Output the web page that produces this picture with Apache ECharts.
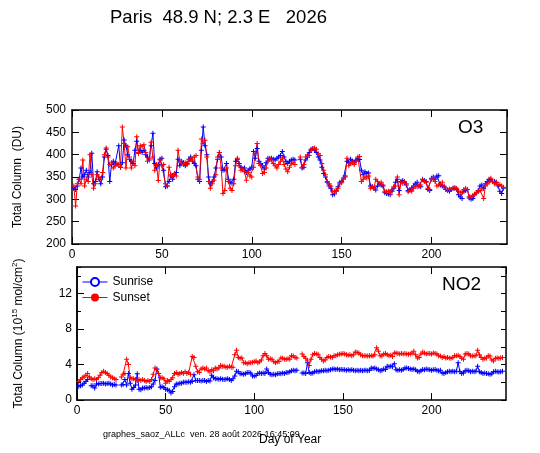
<!DOCTYPE html>
<html><head><meta charset="utf-8">
<script src="https://cdn.jsdelivr.net/npm/echarts/dist/echarts.min.js"></script>
<style>html,body{margin:0;padding:0;background:#fff}#c{width:540px;height:453px}</style>
</head><body><div id="c"></div>
<script>
// ---- data (day of year starts at firstDay, one value per day, null = no measurement) ----
const firstDay = 1;
const o3Sunrise = [
325,322,330,345,370,350,355,365,350,360,
403,335,340,362,345,335,350,395,412,398,
340,378,385,380,378,420,372,382,433,420,
400,390,385,380,410,430,403,410,405,410,
400,395,388,420,448,380,370,378,390,392,
365,328,330,340,352,345,355,360,390,375,
385,382,375,380,390,395,385,380,375,345,
340,410,462,420,400,350,335,340,350,370,
390,405,395,365,366,380,345,338,336,345,
385,390,380,372,368,370,360,365,368,372,
407,392,414,385,380,375,368,382,392,390,
392,390,388,392,395,398,407,395,385,380,
385,388,390,388,null,null,390,370,372,388,
395,405,412,414,410,405,395,388,372,358,
350,338,330,325,310,312,318,328,338,340,
348,352,385,382,390,385,382,388,392,389,
365,355,362,358,359,330,328,325,321,330,
335,332,330,315,313,312,310,318,325,338,
345,320,340,342,338,332,320,322,325,330,
335,338,330,328,345,342,340,322,320,347,
350,345,352,353,332,330,328,322,320,318,
322,325,325,322,310,305,302,318,320,322,
303,300,302,310,315,320,330,332,325,335,
340,345,344,340,340,338,330,318,313,325];
const o3Sunset = [
330,285,335,345,335,388,330,345,340,400,
355,325,335,355,350,345,360,400,415,395,
378,382,370,375,380,378,372,462,425,370,
418,395,370,385,375,440,405,420,418,422,
405,385,392,428,395,365,378,342,388,375,
378,335,330,372,355,352,358,352,410,385,
380,378,382,378,385,390,388,395,398,350,
345,435,425,432,395,340,325,335,343,355,
395,405,370,313,320,370,340,325,320,335,
375,392,375,365,368,362,343,360,352,350,
372,403,425,380,375,358,360,370,385,392,
388,380,375,370,378,385,392,378,368,362,
372,380,382,378,null,null,395,372,378,395,
400,398,410,413,415,412,402,398,380,365,
355,340,335,330,317,318,320,325,335,337,
345,350,392,375,380,382,378,385,395,396,
340,345,350,348,352,325,328,325,345,340,
335,338,332,318,317,318,315,322,328,330,
350,310,338,336,340,335,317,320,318,325,
330,328,330,332,344,340,338,325,322,345,
348,340,330,332,335,338,330,322,322,323,
322,325,326,325,318,315,315,322,325,322,
306,305,308,312,315,318,320,323,302,330,
335,338,347,340,335,338,332,333,330,327];
const no2Sunrise = [
1.55,1.6,1.7,1.9,2.1,2.3,null,1.6,1.6,1.35,
1.8,1.8,1.85,1.85,1.9,1.8,1.85,1.9,1.8,1.7,
1.75,1.7,null,null,1.7,1.75,2.3,1.7,3.0,1.9,
1.2,1.4,1.7,2.95,1.2,1.15,1.35,1.35,1.4,1.35,
1.4,1.5,1.8,2.2,3.5,3.0,1.45,1.5,1.4,1.2,
1.15,1.1,0.8,0.95,1.5,1.8,1.8,1.9,1.9,2.0,
2.0,2.0,2.05,2.0,2.1,2.85,2.2,2.2,2.2,2.15,
2.2,2.2,2.1,2.2,2.15,2.8,2.5,2.4,2.4,2.35,
2.4,2.35,2.3,2.35,2.4,2.3,2.2,2.4,2.7,3.25,
3.2,2.95,2.95,2.9,2.95,3.1,3.1,3.05,2.7,2.7,
2.75,3.0,3.05,3.0,3.05,3.0,3.5,3.1,2.9,2.85,
2.9,2.85,2.95,3.0,2.95,3.05,3.0,3.1,3.1,3.2,
3.3,3.35,3.3,3.35,null,null,3.05,3.05,3.0,4.2,
3.1,3.0,3.05,3.2,3.25,3.2,3.25,3.3,3.3,3.35,
3.3,3.35,3.4,3.5,3.5,3.45,3.5,3.4,3.45,3.4,
3.4,3.35,3.4,3.35,3.4,3.35,3.3,3.35,3.3,3.35,
3.3,3.35,3.35,3.3,3.35,3.6,3.55,3.6,3.5,3.4,
3.3,3.35,3.5,3.45,3.8,3.75,3.8,3.75,4.1,3.4,
3.35,3.4,3.35,3.45,3.6,3.6,3.55,3.5,3.45,3.5,
3.4,3.25,3.2,3.3,3.45,3.4,3.5,3.45,3.4,3.35,
3.4,3.45,3.35,3.3,3.35,3.05,3.0,3.1,3.2,3.25,
3.2,3.25,3.2,3.25,4.2,3.2,3.0,3.05,3.3,3.35,
3.3,3.2,3.25,3.2,3.25,3.8,3.2,3.1,3.0,3.05,
3.0,2.95,2.9,2.95,3.2,3.25,3.2,3.15,3.2,3.25];
const no2Sunset = [
2.1,2.3,2.5,2.6,2.8,3.0,2.6,2.4,2.3,2.4,
2.3,2.5,2.8,3.1,3.25,3.1,3.0,2.8,2.6,2.5,
2.4,2.3,null,null,2.6,2.9,3.0,4.6,4.0,2.5,
2.4,2.4,2.3,2.2,2.3,2.2,2.3,2.2,2.1,2.2,
2.1,2.3,2.9,3.6,3.4,3.0,2.5,2.5,2.4,1.9,
2.2,2.1,2.3,2.5,3.0,3.1,2.9,3.0,3.1,3.0,
3.2,3.0,3.1,2.9,4.9,4.8,3.8,3.2,3.1,3.5,
3.6,3.5,3.6,3.3,3.2,3.4,3.3,3.6,3.5,3.6,
3.9,3.8,3.8,3.7,3.7,3.8,3.7,3.7,5.1,5.6,
4.8,4.7,4.75,4.2,4.2,4.1,4.2,4.2,4.25,4.3,
4.4,4.2,4.3,4.5,5.0,5.25,5.0,4.6,4.65,4.6,
4.3,4.2,4.3,4.35,4.75,4.7,4.6,4.6,4.65,4.6,
5.0,4.95,4.8,4.75,null,null,5.2,4.9,4.7,4.4,
3.9,4.6,5.1,5.25,5.2,5.15,4.8,4.6,4.4,4.5,
4.8,4.9,4.85,4.8,5.0,5.0,5.1,5.15,5.2,5.25,
5.2,5.1,5.05,5.1,5.0,5.1,5.4,5.35,5.3,5.1,
5.0,5.0,5.0,4.95,5.0,5.0,4.95,5.1,5.9,5.5,
5.0,4.95,5.2,5.25,5.1,5.0,5.05,4.9,5.3,5.3,
5.25,5.2,5.25,5.2,5.25,5.2,5.15,5.2,5.3,5.5,
5.1,4.75,4.8,5.2,5.4,5.3,5.2,5.25,5.25,5.2,
5.3,5.25,5.2,5.0,4.95,4.8,4.9,4.75,4.8,4.75,
4.7,4.8,5.0,5.0,5.05,4.9,4.7,4.6,5.2,5.25,
5.2,5.0,4.95,5.0,5.0,5.6,5.1,4.8,4.6,4.7,
4.75,5.0,4.95,4.5,4.4,4.7,4.75,4.7,4.75,4.8];
const legendNames = ['Sunrise', 'Sunset'];
const dayAxis = {min: 0, max: 242, interval: 50};
const o3Axis = {min: 200, max: 500, interval: 50};
const no2Axis = {min: 0, max: 15, interval: 4, minor: 2};
const titleText = 'Paris  48.9 N; 2.3 E   2026';
const footerText = 'graphes_saoz_ALLc  ven. 28 août 2026 16:45:09';

// ---- chart ----
const blue = '#0000ff', red = '#ff0000', black = '#000';
const font = '"Liberation Sans", Arial, Helvetica, sans-serif';
const plus = 'path://M-0.2,-1H0.2V-0.2H1V0.2H0.2V1H-0.2V0.2H-1V-0.2H-0.2Z';
const pts = arr => arr.map((v, i) => [firstDay + i, v]);
const axLine = {show: true, onZero: false, lineStyle: {color: black, width: 1.5}};
const lbl = (show, margin, showMax) => ({show, color: black, fontSize: 12, fontFamily: font, margin, showMaxLabel: !!showMax, showMinLabel: true});

function xAx(grid, pos, labels) {
  return {type: 'value', gridIndex: grid, position: pos, min: dayAxis.min, max: dayAxis.max, interval: dayAxis.interval,
    axisLine: axLine, axisTick: {show: true, inside: true, length: 7, lineStyle: {color: black, width: 1}},
    axisLabel: lbl(labels, 5, false), splitLine: {show: false}};
}
function yAx(grid, pos, cfg, interval, labels, tickLen, margin, showMax) {
  return {type: 'value', gridIndex: grid, position: pos, min: cfg.min, max: cfg.max, interval,
    axisLine: axLine, axisTick: {show: true, inside: true, length: tickLen, lineStyle: {color: black, width: 1}},
    axisLabel: lbl(labels, margin, showMax), splitLine: {show: false}};
}
function line(name, xi, yi, data, color) {
  return {type: 'line', name, xAxisIndex: xi, yAxisIndex: yi, data, symbol: plus, symbolSize: 5,
    lineStyle: {color, width: 1}, itemStyle: {color}, connectNulls: false, silent: true};
}

const y0 = yAx(0, 'left', o3Axis, o3Axis.interval, true, 7, 6, true);
Object.assign(y0, {name: 'Total Column  (DU)', nameLocation: 'middle', nameGap: 48, nameRotate: 90,
  nameTextStyle: {fontSize: 12, color: black, fontFamily: font}});
const y2 = yAx(1, 'left', no2Axis, no2Axis.interval, true, 7, 5, false);
Object.assign(y2, {name: '{a|Total Column (10}{s|15}{a| mol/cm}{s|2}{a|)}', nameLocation: 'middle', nameGap: 52, nameRotate: 90,
  nameTextStyle: {fontSize: 12, color: black, fontFamily: font, rich: {
    a: {fontSize: 12, fontFamily: font, color: black, lineHeight: 14, verticalAlign: 'bottom', padding: [5, 0, 0, 0]},
    s: {fontSize: 8, fontFamily: font, color: black, lineHeight: 10, verticalAlign: 'top'}}}});

const chart = echarts.init(document.getElementById('c'), null, {renderer: 'canvas'});
chart.setOption({
  animation: false,
  backgroundColor: '#fff',
  title: {text: titleText, left: 110, top: 8, padding: 0, textStyle: {fontSize: 18.5, fontWeight: 'normal', color: black, fontFamily: font}},
  grid: [
    {left: 72, right: 33, top: 110, height: 134, outerBoundsMode: 'none', containLabel: false},
    {left: 77, right: 34, top: 267, height: 133, outerBoundsMode: 'none', containLabel: false}
  ],
  xAxis: [xAx(0, 'bottom', true), xAx(0, 'top', false), xAx(1, 'bottom', true), xAx(1, 'top', false)],
  yAxis: [
    y0,
    yAx(0, 'right', o3Axis, o3Axis.interval, false, 7, 6, false),
    y2,
    yAx(1, 'left', no2Axis, no2Axis.minor, false, 4, 5, false),
    yAx(1, 'right', no2Axis, no2Axis.minor, false, 5, 5, false)
  ],
  legend: {data: legendNames, orient: 'vertical', left: 82, top: 276, padding: 0, itemWidth: 25, itemHeight: 10, itemGap: 3.5,
    selectedMode: false, lineStyle: {width: 1}, textStyle: {fontSize: 12, color: black, fontFamily: font}},
  graphic: [
    {type: 'text', left: 458, top: 118, style: {text: 'O3', fontSize: 19, fontFamily: font, fill: black}},
    {type: 'text', left: 442, top: 275, style: {text: 'NO2', fontSize: 19, fontFamily: font, fill: black}},
    {type: 'text', left: 103, top: 430, style: {text: footerText, fontSize: 9, fontFamily: font, fill: black}},
    {type: 'text', left: 259, top: 434, style: {text: 'Day of Year', fontSize: 12, fontFamily: font, fill: black}}
  ],
  series: [
    line('O3 sunrise', 0, 0, pts(o3Sunrise), blue),
    line('O3 sunset', 0, 0, pts(o3Sunset), red),
    line('NO2 sunrise', 2, 2, pts(no2Sunrise), blue),
    line('NO2 sunset', 2, 2, pts(no2Sunset), red),
    {type: 'line', name: legendNames[0], xAxisIndex: 2, yAxisIndex: 2, data: [], symbol: 'emptyCircle', symbolSize: 8,
      itemStyle: {color: blue, borderWidth: 1}, lineStyle: {color: blue, width: 1}},
    {type: 'line', name: legendNames[1], xAxisIndex: 2, yAxisIndex: 2, data: [], symbol: 'circle', symbolSize: 8,
      itemStyle: {color: red}, lineStyle: {color: red, width: 1}}
  ]
});
</script>
</body></html>
